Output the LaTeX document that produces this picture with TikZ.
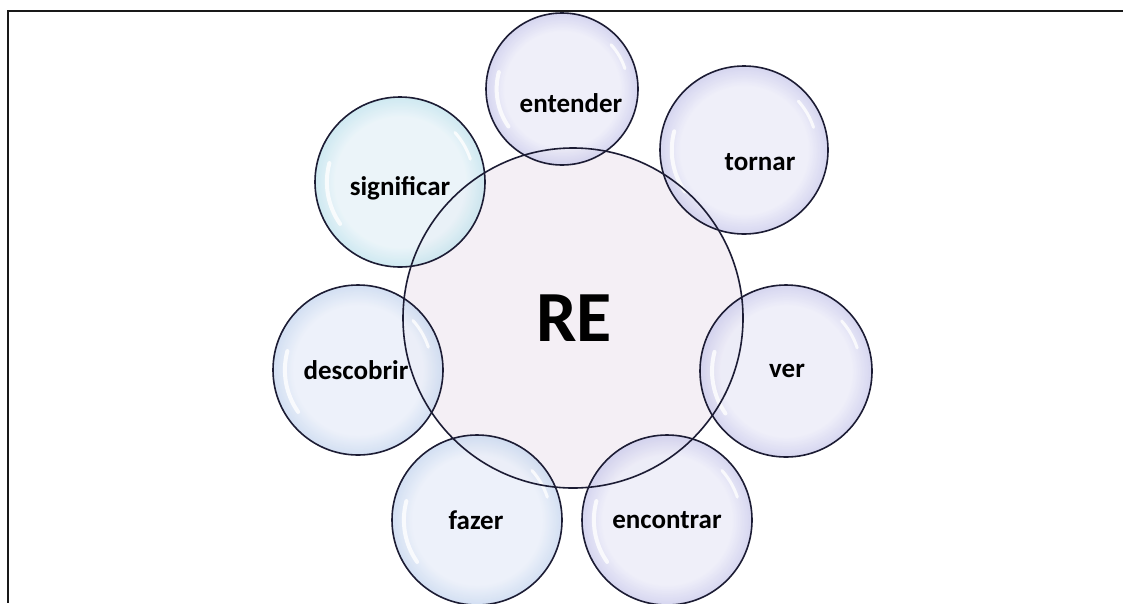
\documentclass[tikz,border=0pt]{standalone}
\usepackage{fontspec}
\setmainfont{Carlito}
\definecolor{lavin}{HTML}{EBEBF8}
\definecolor{lavmid}{HTML}{C2C2E8}
\definecolor{lavout}{HTML}{7E7EC0}
\definecolor{lavdark}{HTML}{5C5CA6}
\definecolor{rein}{HTML}{F1ECF3}
\definecolor{remid}{HTML}{D9CDE6}
\definecolor{reout}{HTML}{A190C4}
\definecolor{redark}{HTML}{8270B2}
\definecolor{bluin}{HTML}{E9EEF9}
\definecolor{blumid}{HTML}{BED1EC}
\definecolor{bluout}{HTML}{7C9ED2}
\definecolor{bludark}{HTML}{5A7EBA}
\definecolor{tealin}{HTML}{E7F2F8}
\definecolor{tealmid}{HTML}{B8DFEA}
\definecolor{tealout}{HTML}{62B6C8}
\definecolor{tealdark}{HTML}{3694AA}
\definecolor{rimline}{HTML}{1C1C34}
% TikZ fits the shading square round the path, so the circle edge lies at about 35.4bp
\pgfdeclareradialshading{lavbub}{\pgfpoint{0bp}{0bp}}{color(0bp)=(lavin); color(19bp)=(lavin); color(27bp)=(lavmid); color(33bp)=(lavout); color(35.4bp)=(lavdark); color(50bp)=(lavdark)}
\pgfdeclareradialshading{rebub}{\pgfpoint{0bp}{0bp}}{color(0bp)=(rein); color(25bp)=(rein); color(31bp)=(remid); color(34bp)=(reout); color(35.4bp)=(redark); color(50bp)=(redark)}
\pgfdeclareradialshading{blubub}{\pgfpoint{0bp}{0bp}}{color(0bp)=(bluin); color(19bp)=(bluin); color(27bp)=(blumid); color(33bp)=(bluout); color(35.4bp)=(bludark); color(50bp)=(bludark)}
\pgfdeclareradialshading{tealbub}{\pgfpoint{0bp}{0bp}}{color(0bp)=(tealin); color(19bp)=(tealin); color(27bp)=(tealmid); color(33bp)=(tealout); color(35.4bp)=(tealdark); color(50bp)=(tealdark)}
\tikzset{
  bubble/.style={circle, inner sep=0pt, outer sep=0pt, fill opacity=0.82},
  ring/.style={circle, inner sep=0pt, outer sep=0pt, draw=rimline, line width=1.6pt},
  word/.style={font=\fontsize{27}{31}\selectfont\bfseries, text=black},
  gloss/.style={white, line width=4pt, line cap=round, opacity=0.8},
  frameline/.style={line width=2pt, draw=black!90}
}
\begin{document}
\begin{tikzpicture}[x=1pt,y=-1pt]
\useasboundingbox (0,0) rectangle (1123,603);
% frame (top and left edges)
\coordinate (fTL) at (7.5,11);
\coordinate (fTR) at (1123,11);
\coordinate (fBL) at (7.5,603);
\draw[frameline] (fTR) -- (fTL) -- (fBL);
% fills
\node[bubble, shading=rebub, minimum size=340pt] (re) at (573,318) {};
\node[bubble, shading=lavbub, minimum size=152pt] (entender) at (562,89) {};
\node[bubble, shading=lavbub, minimum size=168pt] (tornar) at (744,150) {};
\node[bubble, shading=tealbub, minimum size=170pt] (significar) at (400,182) {};
\node[bubble, shading=blubub, minimum size=170pt] (descobrir) at (358,370) {};
\node[bubble, shading=lavbub, minimum size=172pt] (ver) at (786,371) {};
\node[bubble, shading=blubub, minimum size=170pt] (fazer) at (477,520) {};
\node[bubble, shading=lavbub, minimum size=170pt] (encontrar) at (667,520) {};
% gloss highlights
\foreach \n/\r in {entender/76,tornar/84,significar/85,descobrir/85,ver/86,fazer/85,encontrar/85}{
  \draw[gloss] ([shift={(145:0.86*\r)}]\n.center) arc[start angle=145, end angle=195, radius=0.86*\r];
  \draw[gloss, line width=3pt] ([shift={(-18:0.87*\r)}]\n.center) arc[start angle=-18, end angle=-42, radius=0.87*\r];
}
% outlines
\node[ring, minimum size=340pt] (reR) at (re.center) {};
\node[ring, minimum size=152pt] (entenderR) at (entender.center) {};
\node[ring, minimum size=168pt] (tornarR) at (tornar.center) {};
\node[ring, minimum size=170pt] (significarR) at (significar.center) {};
\node[ring, minimum size=170pt] (descobrirR) at (descobrir.center) {};
\node[ring, minimum size=172pt] (verR) at (ver.center) {};
\node[ring, minimum size=170pt] (fazerR) at (fazer.center) {};
\node[ring, minimum size=170pt] (encontrarR) at (encontrar.center) {};
% labels
\node[font=\fontsize{72}{80}\selectfont\bfseries] (reT) at (574,318) {RE};
\node[word] (entenderT) at (571,103) {entender};
\node[word] (tornarT) at (760,162) {tornar};
\node[word] (significarT) at (400,188) {significar};
\node[word] (descobrirT) at (356,370) {descobrir};
\node[word] (verT) at (787,371) {ver};
\node[word] (fazerT) at (476,520) {fazer};
\node[word] (encontrarT) at (667,520) {encontrar};
\end{tikzpicture}
\end{document}
